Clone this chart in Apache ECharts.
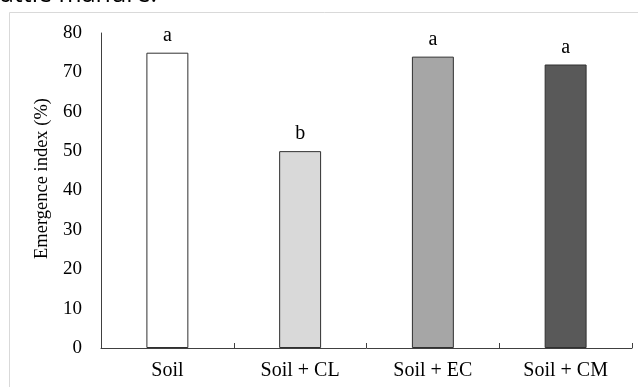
<!DOCTYPE html>
<html>
<head>
<meta charset="utf-8">
<script src="https://cdn.jsdelivr.net/npm/echarts@6/dist/echarts.min.js"></script>
<style>html,body{margin:0;padding:0;background:#fff;}#c{width:638px;height:387px;}</style>
</head>
<body>
<div id="c"></div>
<script>
const categories = ['Soil', 'Soil + CL', 'Soil + EC', 'Soil + CM'];
const values = [75, 50, 74, 72];
const letters = ['a', 'b', 'a', 'a'];
const barColors = ['#ffffff', '#d9d9d9', '#a6a6a6', '#595959'];
const yTicks = { min: 0, max: 80, interval: 10 };

const chart = echarts.init(document.getElementById('c'), null, { renderer: 'canvas' });
const serif = 'Liberation Serif, Times New Roman, serif';
chart.setOption({
  animation: false,
  backgroundColor: '#ffffff',
  graphic: [
    { type: 'rect', shape: { x: 9.5, y: 12.5, width: 700, height: 500 }, style: { fill: 'none', stroke: '#d9d9d9', lineWidth: 1 }, z: -1 },
    { type: 'text', left: -12, top: -18, style: { text: 'cattle manure.', font: '25px "Open Sans", sans-serif', fill: '#000' } }
  ],
  grid: { left: 101, right: 6, top: 33, bottom: 39, containLabel: false },
  xAxis: {
    type: 'category',
    data: categories,
    axisLine: { lineStyle: { color: '#404040', width: 1 } },
    axisTick: { show: true, inside: true, length: 5, lineStyle: { color: '#404040' } },
    axisLabel: { color: '#000', fontFamily: serif, fontSize: 20, margin: 13 },
    splitLine: { show: false }
  },
  yAxis: {
    type: 'value',
    min: yTicks.min, max: yTicks.max, interval: yTicks.interval,
    name: 'Emergence index (%)',
    nameLocation: 'middle',
    nameGap: 45,
    nameRotate: 90,
    nameTextStyle: { color: '#000', fontFamily: serif, fontSize: 18.5, padding: [0, 0, 0, 24] },
    axisLine: { show: true, lineStyle: { color: '#404040', width: 1 } },
    axisTick: { show: false },
    axisLabel: { color: '#000', fontFamily: serif, fontSize: 19, margin: 19 },
    splitLine: { show: false }
  },
  series: [{
    type: 'bar',
    data: values.map((v, i) => ({ value: v, itemStyle: { color: barColors[i] } })),
    barWidth: '31.6%',
    itemStyle: { borderColor: '#303030', borderWidth: 1 },
    label: {
      show: true, position: 'top', distance: 7,
      formatter: p => letters[p.dataIndex],
      color: '#000', fontFamily: serif, fontSize: 20
    }
  }]
});
</script>
</body>
</html>
